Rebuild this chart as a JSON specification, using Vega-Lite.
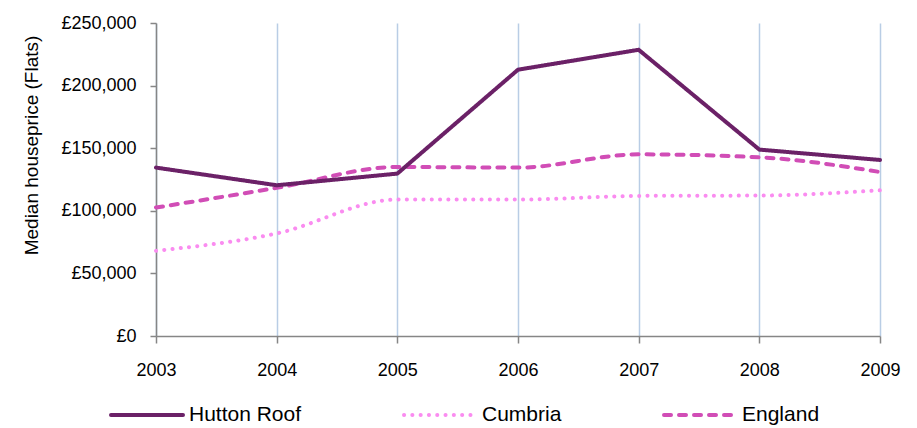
{
  "$schema": "https://vega.github.io/schema/vega-lite/v6.json",
  "width": 724,
  "height": 313,
  "autosize": {"type": "none"},
  "padding": {"left": 156, "top": 23, "right": 37, "bottom": 92},
  "background": "white",
  "config": {
    "font": "Liberation Sans",
    "view": {"stroke": null}
  },
  "data": {
    "values": [
      {"year": 2003, "series": "Hutton Roof", "price": 134500},
      {"year": 2004, "series": "Hutton Roof", "price": 120400},
      {"year": 2005, "series": "Hutton Roof", "price": 129700},
      {"year": 2006, "series": "Hutton Roof", "price": 212700},
      {"year": 2007, "series": "Hutton Roof", "price": 228600},
      {"year": 2008, "series": "Hutton Roof", "price": 148900},
      {"year": 2009, "series": "Hutton Roof", "price": 140600},
      {"year": 2003, "series": "Cumbria", "price": 68000},
      {"year": 2004, "series": "Cumbria", "price": 81900},
      {"year": 2005, "series": "Cumbria", "price": 109000},
      {"year": 2006, "series": "Cumbria", "price": 109000},
      {"year": 2007, "series": "Cumbria", "price": 111900},
      {"year": 2008, "series": "Cumbria", "price": 112200},
      {"year": 2009, "series": "Cumbria", "price": 116400},
      {"year": 2003, "series": "England", "price": 102600},
      {"year": 2004, "series": "England", "price": 118300},
      {"year": 2005, "series": "England", "price": 135000},
      {"year": 2006, "series": "England", "price": 134500},
      {"year": 2007, "series": "England", "price": 145100},
      {"year": 2008, "series": "England", "price": 142700},
      {"year": 2009, "series": "England", "price": 131000}
    ]
  },
  "encoding": {
    "x": {
      "field": "year",
      "type": "quantitative",
      "scale": {"domain": [2003, 2009], "nice": false, "zero": false},
      "axis": {
        "title": null,
        "format": "d",
        "values": [2003, 2004, 2005, 2006, 2007, 2008, 2009],
        "grid": true,
        "gridColor": "#B9CDE5",
        "gridWidth": 1.5,
        "domainColor": "#868686",
        "domainWidth": 1.5,
        "tickColor": "#868686",
        "tickSize": 7,
        "tickWidth": 1.5,
        "labelFont": "Liberation Sans",
        "labelFontSize": 18,
        "labelColor": "#000000",
        "labelPadding": 18,
        "labelFlush": false
      }
    },
    "y": {
      "field": "price",
      "type": "quantitative",
      "scale": {"domain": [0, 250000], "nice": false},
      "axis": {
        "title": "Median houseprice (Flats)",
        "titleFont": "Liberation Sans",
        "titleFontSize": 19,
        "titleFontWeight": "normal",
        "titleColor": "#000000",
        "titleX": -125,
        "titleY": 122,
        "titleAngle": 270,
        "titleAlign": "center",
        "titleBaseline": "middle",
        "values": [0, 50000, 100000, 150000, 200000, 250000],
        "labelExpr": "'£' + format(datum.value, ',')",
        "grid": false,
        "domainColor": "#868686",
        "domainWidth": 1.5,
        "tickColor": "#868686",
        "tickSize": 6,
        "tickWidth": 1.5,
        "labelFont": "Liberation Sans",
        "labelFontSize": 18,
        "labelColor": "#000000",
        "labelPadding": 14
      }
    },
    "color": {
      "field": "series",
      "type": "nominal",
      "scale": {"domain": ["Hutton Roof", "Cumbria", "England"], "range": ["#6B2167", "#FA8CF0", "#D14DB6"]},
      "legend": {
        "title": null,
        "orient": "none",
        "legendX": -47,
        "legendY": 354,
        "padding": 0,
        "direction": "horizontal",
        "columns": 3,
        "columnPadding": 94,
        "symbolType": "stroke",
        "symbolSize": 5184,
        "symbolStrokeWidth": 4,
        "labelFont": "Liberation Sans",
        "labelFontSize": 21,
        "labelColor": "#000000",
        "labelOffset": 4,
        "encode": {"symbols": {"update": {"strokeCap": {"value": "round"}}}}
      }
    },
    "strokeDash": {
      "field": "series",
      "type": "nominal",
      "scale": {"domain": ["Hutton Roof", "Cumbria", "England"], "range": [[1, 0], [0.1, 8.2], [7, 8]]},
      "legend": null
    }
  },
  "layer": [
    {
      "transform": [{"filter": "datum.series !== 'Hutton Roof'"}],
      "mark": {"type": "line", "strokeWidth": 4, "interpolate": "monotone", "strokeCap": "round"}
    },
    {
      "transform": [{"filter": "datum.series === 'Hutton Roof'"}],
      "mark": {"type": "line", "strokeWidth": 4, "interpolate": "linear", "strokeCap": "round", "strokeJoin": "miter"}
    }
  ]
}
